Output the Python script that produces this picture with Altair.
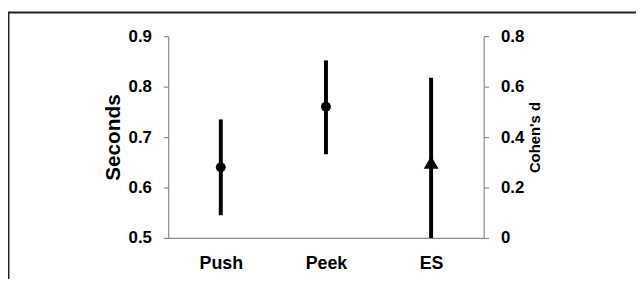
import altair as alt
import pandas as pd

# ---- data ----
categories = ["Push", "Peek", "ES"]

sec_cats = ["Push", "Peek"]
sec_mean = [0.64, 0.76]
sec_lo = [0.545, 0.666]
sec_hi = [0.735, 0.852]

d_cats = ["ES"]
d_mean = [0.30]
d_lo = [0.0]
d_hi = [0.635]

sec_ticks = [0.5, 0.6, 0.7, 0.8, 0.9]
d_ticks = [0, 0.2, 0.4, 0.6, 0.8]

FONT = "Liberation Sans"
AXIS_GRAY = "#8a8a8a"

sec_df = pd.DataFrame({"cond": sec_cats, "mean": sec_mean, "lo": sec_lo, "hi": sec_hi})
d_df = pd.DataFrame({"cond": d_cats, "mean": d_mean, "lo": d_lo, "hi": d_hi})

x_axis = alt.Axis(
    title=None, ticks=False, labelAngle=0, labelFont=FONT, labelFontWeight="bold",
    labelFontSize=18, labelColor="#000", labelPadding=17, domainColor=AXIS_GRAY,
    domainWidth=1.2, grid=False,
)
x_enc = alt.X("cond:N", sort=categories,
              scale=alt.Scale(type="point", domain=categories, padding=0.5),
              axis=x_axis)

sec_axis = alt.Axis(
    title="Seconds", orient="left", values=sec_ticks, format=".1f", tickSize=5,
    tickColor=AXIS_GRAY, domainColor=AXIS_GRAY, domainWidth=1.2, tickWidth=1.2,
    labelFont=FONT, labelFontWeight="bold", labelFontSize=17, labelColor="#000",
    labelPadding=12, titleFont=FONT, titleFontWeight="bold", titleFontSize=21,
    titleColor="#000", titleAngle=270, titleX=-55, titleY=102,
    titleBaseline="middle", titleAlign="center", grid=False,
)
d_axis = alt.Axis(
    title="Cohen's d", orient="right", values=d_ticks, format=".1~f", tickSize=5,
    tickColor=AXIS_GRAY, domainColor=AXIS_GRAY, domainWidth=1.2, tickWidth=1.2,
    labelFont=FONT, labelFontWeight="bold", labelFontSize=17, labelColor="#000",
    labelPadding=12, titleFont=FONT, titleFontWeight="bold", titleFontSize=15,
    titleColor="#000", titleAngle=270, titleX=51, titleY=102,
    titleBaseline="middle", titleAlign="center", grid=False,
)

sec_scale = alt.Scale(domain=[0.5, 0.9], nice=False, zero=False)
d_scale = alt.Scale(domain=[0, 0.8], nice=False, zero=False)

sec_rule = alt.Chart(sec_df).mark_rule(color="#000", strokeWidth=4).encode(
    x=x_enc, y=alt.Y("lo:Q", scale=sec_scale, axis=sec_axis), y2="hi:Q")
sec_pt = alt.Chart(sec_df).mark_point(filled=True, shape="circle", size=100,
                                      color="#000", opacity=1).encode(
    x=x_enc, y=alt.Y("mean:Q", scale=sec_scale, axis=sec_axis))
left = alt.layer(sec_rule, sec_pt)

d_rule = alt.Chart(d_df).mark_rule(color="#000", strokeWidth=4).encode(
    x=x_enc, y=alt.Y("lo:Q", scale=d_scale, axis=d_axis), y2="hi:Q")
d_pt = alt.Chart(d_df).mark_point(filled=True, shape="triangle-up", size=220,
                                  color="#000", opacity=1).encode(
    x=x_enc, y=alt.Y("mean:Q", scale=d_scale, axis=d_axis))
right = alt.layer(d_rule, d_pt)

# decorative figure frame (top and left edges)
frame_df = pd.DataFrame({"k": [0]})
frame_top = alt.Chart(frame_df).mark_rule(color="#222", strokeWidth=2).encode(
    x=alt.value(-162), x2=alt.value(480), y=alt.value(-24))
frame_left = alt.Chart(frame_df).mark_rule(color="#222", strokeWidth=2).encode(
    x=alt.value(-161.5), y=alt.value(-24), y2=alt.value(270))
frame = alt.layer(frame_top, frame_left)

chart = alt.layer(left, right, frame).resolve_scale(y="independent").properties(
    width=319, height=204,
    autosize=alt.AutoSizeParams(type="none"),
    padding={"left": 162, "top": 27, "right": 154, "bottom": 40},
    background="white",
).configure_view(stroke=None)

chart.save("out.html", embed_options={"renderer": "svg", "actions": False})
